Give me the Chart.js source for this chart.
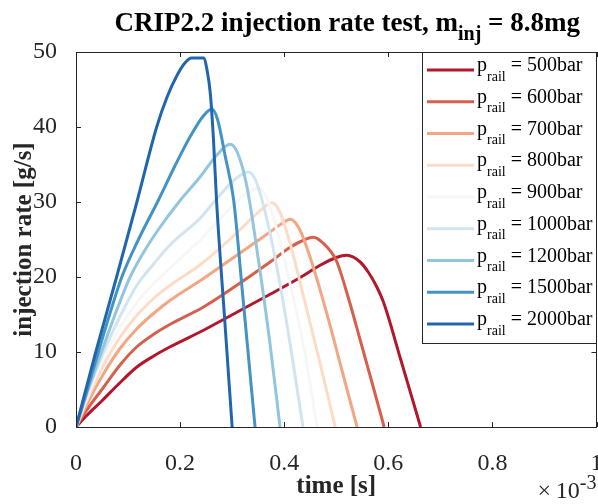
<!DOCTYPE html>
<html>
<head>
<meta charset="utf-8">
<script src="https://cdn.jsdelivr.net/npm/chart.js@4.4.1/dist/chart.umd.min.js"></script>
<style>
	html, body { margin: 0; padding: 0; background: #fff; }
	#chart-container { width: 598px; height: 504px; }
</style>
</head>
<body>
<div id="chart-container"><canvas id="chart" width="598" height="504"></canvas></div>
<script>
// rail pressures [bar], one curve each
var railPressures = [500, 600, 700, 800, 900, 1000, 1200, 1500, 2000];

// tick labels, time axis is in units of 1e-3 s
var xTickLabels = ['0', '0.2', '0.4', '0.6', '0.8', '1'];
var yTickLabels = ['0', '10', '20', '30', '40', '50'];

// injection rate curves: time [ms] / rate [g/s]
var time500 = [0, 0.02, 0.05, 0.08, 0.117, 0.15, 0.181, 0.245, 0.309, 0.373, 0.43, 0.47, 0.5, 0.52, 0.546, 0.562, 0.577, 0.591, 0.623, 0.662];
var rate500 = [0, 1.5, 3.5, 5.6, 8.0, 9.5, 10.7, 12.9, 15.3, 17.7, 19.9, 21.6, 22.6, 22.9, 22.0, 20.6, 18.8, 16.6, 9.2, 0];

var time600 = [0, 0.02, 0.053, 0.085, 0.117, 0.15, 0.181, 0.245, 0.309, 0.373, 0.41, 0.44, 0.456, 0.475, 0.5, 0.525, 0.546, 0.57, 0.592];
var rate600 = [0, 2.2, 5.3, 8.3, 10.7, 12.4, 13.7, 16.0, 18.9, 22.0, 23.9, 25.0, 25.3, 24.5, 22.2, 16.8, 11.6, 5.6, 0];

var time700 = [0, 0.02, 0.053, 0.085, 0.117, 0.15, 0.181, 0.245, 0.309, 0.373, 0.395, 0.412, 0.43, 0.45, 0.482, 0.51, 0.54];
var rate700 = [0, 2.9, 7.1, 10.5, 13.1, 15.2, 16.9, 19.8, 22.9, 26.0, 27.1, 27.7, 26.3, 22.6, 15.1, 7.8, 0];

var time800 = [0, 0.02, 0.053, 0.085, 0.117, 0.15, 0.181, 0.238, 0.3, 0.345, 0.365, 0.376, 0.39, 0.41, 0.44, 0.47, 0.498];
var rate800 = [0, 3.4, 8.3, 12.0, 14.9, 17.2, 18.9, 21.6, 25.3, 28.3, 29.5, 29.9, 28.9, 24.8, 16.6, 8.2, 0];

var time900 = [0, 0.02, 0.053, 0.085, 0.117, 0.15, 0.181, 0.238, 0.29, 0.325, 0.35, 0.365, 0.385, 0.41, 0.44, 0.463];
var rate900 = [0, 3.8, 9.2, 13.3, 16.6, 19.2, 21.2, 24.9, 28.7, 31.0, 31.8, 30.8, 26.5, 19.5, 9.8, 0];

var time1000 = [0, 0.02, 0.053, 0.085, 0.117, 0.15, 0.181, 0.238, 0.27, 0.305, 0.331, 0.345, 0.365, 0.39, 0.415, 0.436];
var rate1000 = [0, 4.2, 10.0, 14.8, 18.9, 21.8, 24.3, 27.8, 30.4, 33.0, 34.0, 32.9, 28.2, 19.8, 9.5, 0];

var time1200 = [0, 0.02, 0.049, 0.075, 0.104, 0.13, 0.16, 0.2, 0.238, 0.27, 0.296, 0.31, 0.328, 0.35, 0.372, 0.392];
var rate1200 = [0, 4.3, 10.0, 15.0, 20.0, 23.3, 26.5, 30.2, 33.3, 36.2, 37.7, 36.6, 32.2, 22.5, 11.5, 0];

var time1500 = [0, 0.02, 0.043, 0.065, 0.088, 0.12, 0.158, 0.19, 0.22, 0.245, 0.261, 0.272, 0.287, 0.303, 0.32, 0.344];
var rate1500 = [0, 4.6, 10.0, 15.1, 20.0, 25.0, 30.2, 34.8, 38.8, 41.5, 42.4, 41.0, 36.0, 30.2, 17.8, 0];

var time2000 = [0, 0.038, 0.078, 0.117, 0.155, 0.175, 0.195, 0.21, 0.222, 0.245, 0.252, 0.258, 0.264, 0.27, 0.286, 0.3];
var rate2000 = [0, 10.0, 20.0, 30.0, 40.0, 44.0, 47.0, 48.6, 49.2, 49.2, 47.5, 44.5, 38.5, 30.2, 14.0, 0];

var seriesTime = [time500, time600, time700, time800, time900, time1000, time1200, time1500, time2000];
var seriesRate = [rate500, rate600, rate700, rate800, rate900, rate1000, rate1200, rate1500, rate2000];

// RdBu colormap, red for low pressure
var lineColors = ['#b2182b', '#d6604d', '#f4a582', '#fddbc7', '#f7f7f7', '#d1e5f0', '#92c5de', '#4393c3', '#2166ac'];

var serif = '"Liberation Serif", "Times New Roman", serif';
var axisColor = '#262626';

// draws pieces of text (for sub/superscripts) one after the other
function drawParts(ctx, parts, x, y, align) {
	var total = 0;
	parts.forEach(function (p) {
		ctx.font = p.font;
		p.w = ctx.measureText(p.text).width;
		total += p.w;
	});
	var cx = x;
	if (align == 'center') cx = x - total / 2;
	if (align == 'right') cx = x - total;
	ctx.textAlign = 'left';
	ctx.textBaseline = 'alphabetic';
	parts.forEach(function (p) {
		ctx.font = p.font;
		ctx.fillText(p.text, cx, y + (p.dy || 0));
		cx += p.w;
	});
}

var matlabAxes = {
	id: 'matlabAxes',
	afterDatasetsDraw: function (chart) {
		var ctx = chart.ctx,
			a = chart.chartArea,
			xs = chart.scales.x,
			ys = chart.scales.y,
			tickLen = 5;

		ctx.save();
		ctx.strokeStyle = axisColor;
		ctx.lineWidth = 1;

		/* box around the axes, MATLAB style */
		ctx.strokeRect(Math.round(a.left) + 0.5, Math.round(a.top) + 0.5,
			Math.round(a.right - a.left) - 1, Math.round(a.bottom - a.top));

		/* inward ticks on all four sides */
		ctx.beginPath();
		xs.ticks.forEach(function (t) {
			var px = Math.round(xs.getPixelForValue(t.value)) + 0.5;
			ctx.moveTo(px, a.bottom);
			ctx.lineTo(px, a.bottom - tickLen);
			ctx.moveTo(px, a.top);
			ctx.lineTo(px, a.top + tickLen);
		});
		ys.ticks.forEach(function (t) {
			var py = Math.round(ys.getPixelForValue(t.value)) + 0.5;
			ctx.moveTo(a.left, py);
			ctx.lineTo(a.left + tickLen, py);
			ctx.moveTo(a.right, py);
			ctx.lineTo(a.right - tickLen, py);
		});
		ctx.stroke();
		ctx.restore();
	},
	afterDraw: function (chart) {
		var ctx = chart.ctx,
			a = chart.chartArea,
			midX = (a.left + a.right) / 2;

		ctx.save();
		ctx.fillStyle = '#000';

		/* title with subscript */
		drawParts(ctx, [
			{text: 'CRIP2.2 injection rate test, m', font: 'bold 27px ' + serif},
			{text: 'inj', font: 'bold 20px ' + serif, dy: 9},
			{text: ' = 8.8mg', font: 'bold 27px ' + serif}
		], midX + 11, 31, 'center');

		/* axis labels */
		ctx.fillStyle = axisColor;
		drawParts(ctx, [{text: 'time [s]', font: 'bold 25px ' + serif}], midX, 493, 'center');

		ctx.save();
		ctx.translate(23, (a.top + a.bottom) / 2);
		ctx.rotate(-Math.PI / 2);
		drawParts(ctx, [{text: 'injection rate [g/s]', font: 'bold 25px ' + serif}], 0, 8, 'center');
		ctx.restore();

		/* exponent of the time axis */
		drawParts(ctx, [
			{text: '\u00d7\u200910', font: '24px ' + serif},
			{text: '-3', font: '20px ' + serif, dy: -9}
		], a.right, 498, 'right');

		/* legend */
		var boxW = 175,
			boxH = 291,
			left = Math.round(a.right) - boxW,
			top = Math.round(a.top);

		ctx.fillStyle = '#fff';
		ctx.fillRect(left, top, boxW, boxH);
		ctx.strokeStyle = axisColor;
		ctx.lineWidth = 1;
		ctx.strokeRect(left + 0.5, top + 0.5, boxW - 1, boxH);

		chart.data.datasets.forEach(function (ds, i) {
			var rowY = top + 18 + i * 31.75;
			ctx.strokeStyle = ds.borderColor;
			ctx.lineWidth = 3;
			ctx.beginPath();
			ctx.moveTo(left + 5, rowY);
			ctx.lineTo(left + 52, rowY);
			ctx.stroke();

			ctx.fillStyle = '#000';
			drawParts(ctx, [
				{text: 'p', font: '20px ' + serif},
				{text: 'rail', font: '14px ' + serif, dy: 9.5},
				{text: ' = ' + railPressures[i] + 'bar', font: '20px ' + serif}
			], left + 55, rowY + 1, 'left');
		});

		ctx.restore();
	}
};

var datasets = railPressures.map(function (p, i) {
	return {
		label: 'p_rail = ' + p + 'bar',
		data: seriesTime[i].map(function (t, k) {
			return {x: t, y: seriesRate[i][k]};
		}),
		borderColor: lineColors[i],
		borderWidth: 3,
		pointRadius: 0,
		fill: false,
		cubicInterpolationMode: 'monotone',
		// later curves are drawn on top, like in the original
		order: railPressures.length - i
	};
});

new Chart(document.getElementById('chart'), {
	type: 'line',
	data: {datasets: datasets},
	plugins: [matlabAxes],
	options: {
		responsive: false,
		animation: false,
		devicePixelRatio: 1,
		layout: {padding: {top: 52, right: 1.5, left: 0, bottom: 0}},
		plugins: {
			legend: {display: false},
			title: {display: false},
			tooltip: {enabled: false}
		},
		scales: {
			x: {
				type: 'linear',
				min: 0,
				max: 1,
				grid: {display: false},
				border: {display: false},
				ticks: {
					stepSize: 0.2,
					padding: 14,
					color: axisColor,
					font: {family: serif, size: 24},
					maxRotation: 0,
					callback: function (v, idx) { return xTickLabels[idx]; }
				},
				afterFit: function (scale) {
					scale.height = 77;
					// let the last label hang over the edge like MATLAB does
					scale.paddingLeft = 0;
					scale.paddingRight = 0;
				}
			},
			y: {
				min: 0,
				max: 50,
				grid: {display: false},
				border: {display: false},
				ticks: {
					stepSize: 10,
					padding: 11,
					color: axisColor,
					font: {family: serif, size: 24},
					callback: function (v, idx) { return yTickLabels[idx]; }
				},
				afterFit: function (scale) {
					scale.width = 76;
					scale.paddingTop = 0;
					scale.paddingBottom = 0;
				}
			}
		}
	}
});
</script>
</body>
</html>
